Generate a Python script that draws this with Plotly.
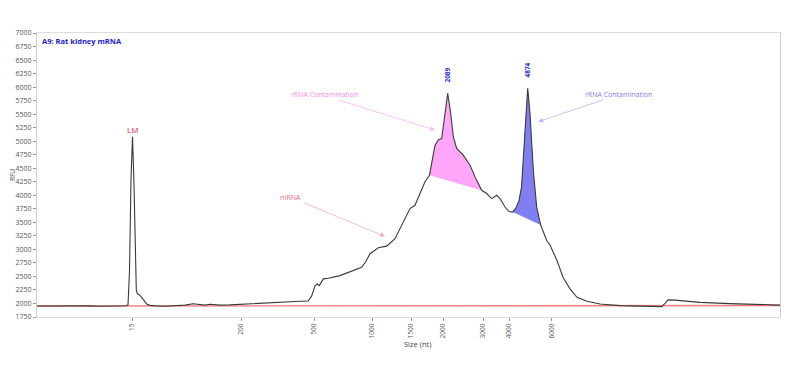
import plotly.graph_objects as go

# Electropherogram trace: migration position (axis units) and RFU
mig = [37, 50, 60, 70, 80, 90, 100, 110, 120, 126, 128, 129.5, 131, 132.5, 134, 135.2, 136.3, 137.3,
       140, 143, 146.7, 150, 155, 165, 175, 185, 193, 200, 205, 210, 220, 230, 245, 260, 275, 290,
       300, 305, 308.3, 311.7, 315, 317.3, 319.3, 323.3, 328.3, 340, 351.7, 361.7, 366, 370, 378.3,
       386.7, 395, 403.3, 410, 415, 420, 425, 429.5, 433, 435, 438.3, 441.7, 443.5, 445, 447.7,
       450.7, 453.3, 456.7, 463.3, 470, 475, 481.7, 486.7, 491.7, 496.7, 500, 505, 509, 512.7,
       516, 519, 521.5, 523.3, 526, 527.7, 530, 533.3, 536.7, 540.7, 546.7, 550, 557, 563, 570,
       577, 587, 600, 620, 640, 661.7, 665, 668, 675, 700, 730, 760, 780]
rfu = [1952, 1955, 1950, 1957, 1952, 1955, 1950, 1955, 1953, 1958, 1975, 2600, 4300, 5080, 4200, 2800, 2250, 2183,
       2150, 2080, 1990, 1965, 1955, 1950, 1955, 1970, 1995, 1975, 1970, 1985, 1970, 1975, 1990, 2010, 2025, 2035,
       2040, 2040, 2050, 2140, 2325, 2360, 2330, 2455, 2465, 2515, 2597, 2670, 2780, 2920, 3030,
       3060, 3197, 3505, 3754, 3815, 4032, 4250, 4371, 4780, 4928, 5021, 5052, 5300, 5516, 5887,
       5516, 5083, 4867, 4742, 4557, 4340, 4093, 4032, 3939, 4000, 3939, 3783, 3700, 3690,
       3770, 3900, 4150, 4650, 5578, 5980, 5516, 4464, 3783, 3450, 3165, 3080, 2795, 2485, 2270,
       2114, 2040, 1991, 1960, 1947, 1941, 2000, 2066, 2062, 2021, 1997, 1978, 1970]

# Baseline
base_mig = [37, 510, 510, 780]
base_rfu = [1952, 1952, 1962, 1962]

# Size ladder (nt) and their positions on the axis
ladder_sizes = ["15", "200", "500", "1000", "1500", "2000", "3000", "4000", "6000"]
ladder_pos = [132, 241, 314.3, 372.3, 411, 443.3, 483.3, 509.3, 551.7]

y_ticks = list(range(1750, 7001, 250))

# Contamination regions (start/end positions along the trace)
pink_range = (429.5, 481.7)
blue_range = (512.7, 540.7)

def region(lo, hi):
    xs = [m for m in mig if lo <= m <= hi]
    ys = [r for m, r in zip(mig, rfu) if lo <= m <= hi]
    return xs, ys

fig = go.Figure()

px, py = region(*pink_range)
fig.add_trace(go.Scatter(x=px, y=py, fill="toself", mode="lines", line=dict(width=0),
                         fillcolor="rgba(255,160,250,0.95)", hoverinfo="skip"))
bx, by = region(*blue_range)
fig.add_trace(go.Scatter(x=bx, y=by, fill="toself", mode="lines", line=dict(width=0),
                         fillcolor="rgba(120,120,240,0.95)", hoverinfo="skip"))

fig.add_trace(go.Scatter(x=base_mig, y=base_rfu, mode="lines",
                         line=dict(color="#f07a7a", width=1.4)))
fig.add_trace(go.Scatter(x=mig, y=rfu, mode="lines",
                         line=dict(color="#3a3a3a", width=1.1)))

FONT = "Open Sans"
ann = []
ann.append(dict(x=0.004, y=0.995, xref="paper", yref="paper", xanchor="left", yanchor="top",
                text="<b>A9: Rat kidney mRNA</b>", showarrow=False,
                font=dict(family=FONT, size=7.5, color="#1a1ad0")))
# Axis titles
ann.append(dict(x=0, y=0.5, xref="paper", yref="paper", text="RFU", textangle=-90,
                xanchor="center", yanchor="middle", xshift=-25,
                showarrow=False, font=dict(family=FONT, size=6.5, color="#444")))
ann.append(dict(x=0.512, y=0, xref="paper", yref="paper", text="Size (nt)",
                xanchor="center", yanchor="middle", yshift=-27,
                showarrow=False, font=dict(family=FONT, size=7.5, color="#444")))
ann.append(dict(x=132, y=5225, text="LM", showarrow=False,
                font=dict(family=FONT, size=8, color="#e0283a")))
ann.append(dict(x=447.7, y=6226, text="<b>2089</b>", textangle=-90, showarrow=False,
                font=dict(family=FONT, size=6.5, color="#3030d0")))
ann.append(dict(x=527.7, y=6319, text="<b>4874</b>", textangle=-90, showarrow=False,
                font=dict(family=FONT, size=6.5, color="#3030d0")))
# Label texts
ann.append(dict(x=324, y=5855, text="rRNA Contamination", showarrow=False,
                font=dict(family=FONT, size=7, color="#f08cf0")))
ann.append(dict(x=618, y=5855, text="rRNA Contamination", showarrow=False,
                font=dict(family=FONT, size=7, color="#8080ee")))
ann.append(dict(x=290, y=3963, text="mRNA", showarrow=False,
                font=dict(family=FONT, size=7, color="#f06a78")))
# Arrows
for (tx, ty, hx, hy, col) in [(338, 5763, 435, 5206, "#f8b8f8"),
                              (605, 5776, 538.3, 5360, "#b8b8f4"),
                              (302, 3876, 385, 3240, "#f8b0b8")]:
    ann.append(dict(x=hx, y=hy, ax=tx, ay=ty, axref="x", ayref="y", xref="x", yref="y",
                    text="", showarrow=True, arrowhead=2, arrowsize=1.2, arrowwidth=0.8,
                    arrowcolor=col))

fig.update_layout(
    width=790, height=370,
    margin=dict(l=29, r=18, t=25, b=61, autoexpand=False),
    paper_bgcolor="white", plot_bgcolor="white",
    showlegend=False,
    font=dict(family=FONT, size=7, color="#444"),
    annotations=ann,
    xaxis=dict(range=[37, 780], tickmode="array", tickvals=ladder_pos, ticktext=ladder_sizes,
               tickangle=-90, ticks="outside", ticklen=3, tickcolor="#999", automargin=False,
               showgrid=False, zeroline=False, showline=True, linecolor="#dddddd", mirror=True,
               tickfont=dict(family=FONT, size=6.5, color="#555")),
    yaxis=dict(range=[1750, 7000], tickmode="array", tickvals=y_ticks, automargin=False,
               ticks="outside", ticklen=3, tickcolor="#999",
               showgrid=False, zeroline=False, showline=True, linecolor="#cfcfcf", mirror=True,
               tickfont=dict(family=FONT, size=7, color="#555")),
)

fig.write_html("out.html")
